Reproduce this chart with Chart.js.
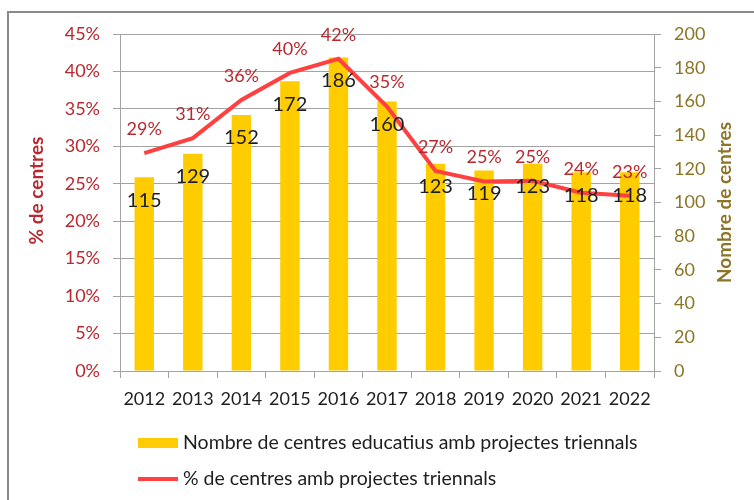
<!DOCTYPE html>
<html>
<head>
<meta charset="utf-8">
<script src="https://cdn.jsdelivr.net/npm/chart.js@4.4.0/dist/chart.umd.min.js"></script>
<style>
  html, body { margin: 0; padding: 0; background: #fff; }
  canvas { display: block; }
</style>
</head>
<body>
<canvas id="chart" width="754" height="500"></canvas>
<script>
var years = ['2012', '2013', '2014', '2015', '2016', '2017', '2018', '2019', '2020', '2021', '2022'];
var nombreCentres = [115, 129, 152, 172, 186, 160, 123, 119, 123, 118, 118];
var percentCentres = [29.1, 31.1, 36.2, 39.8, 41.7, 35.3, 26.7, 25.3, 25.4, 23.8, 23.4];

var percentMax = 45, percentStep = 5;
var countMax = 200, countStep = 20;

var labelBars = 'Nombre de centres educatius amb projectes triennals';
var labelLine = '% de centres amb projectes triennals';
var titleLeft = '% de centres';
var titleRight = 'Nombre de centres';

var colBar = '#FFCC00';
var colLine = '#FF4040';
var colRed = '#B8282E';
var colOlive = '#8C7526';
var colGrid = '#A3A3A3';
var colText = '#1E1E1E';

Chart.defaults.font.family = 'Lato, "Open Sans", sans-serif';

// grey frame around the chart
var framePlugin = {
    id: 'frame',
    beforeDraw: function(chart) {
        var ctx = chart.ctx;
        ctx.save();
        ctx.fillStyle = '#fff';
        ctx.fillRect(0, 0, chart.width, chart.height);
        ctx.strokeStyle = '#8A8A8A';
        ctx.lineWidth = 2;
        ctx.strokeRect(8, 12, chart.width + 20, chart.height + 20);
        ctx.restore();
    }
};

// value labels: counts inside the bar tops, percentages above the line
var valueLabels = {
    id: 'valueLabels',
    afterDatasetsDraw: function(chart) {
        var ctx = chart.ctx;
        ctx.save();
        ctx.textAlign = 'center';
        ctx.textBaseline = 'middle';

        var bars = chart.getDatasetMeta(0);
        ctx.font = '20px Lato';
        ctx.fillStyle = colText;
        bars.data.forEach(function(el, i) {
            ctx.fillText(nombreCentres[i], el.x, el.y + 23);
        });

        var line = chart.getDatasetMeta(1);
        ctx.font = '18px Lato';
        ctx.fillStyle = colRed;
        line.data.forEach(function(el, i) {
            ctx.fillText(Math.round(percentCentres[i]) + '%', el.x, el.y - 24);
        });
        ctx.restore();
    }
};

// vertical axis titles, both reading bottom to top
var axisTitles = {
    id: 'axisTitles',
    afterDraw: function(chart) {
        var ctx = chart.ctx;
        var area = chart.chartArea;
        var mid = (area.top + area.bottom) / 2;
        ctx.save();
        ctx.font = 'bold 19px Lato';
        ctx.textAlign = 'center';
        ctx.textBaseline = 'middle';

        ctx.save();
        ctx.translate(area.left - 83, mid - 12);
        ctx.rotate(-Math.PI / 2);
        ctx.fillStyle = colRed;
        ctx.fillText(titleLeft, 0, 0);
        ctx.restore();

        ctx.save();
        ctx.translate(area.right + 71, mid);
        ctx.rotate(-Math.PI / 2);
        ctx.fillStyle = colOlive;
        ctx.fillText(titleRight, 0, 0);
        ctx.restore();

        ctx.restore();
    }
};

// legend as two stacked rows below the axis
var legendRows = {
    id: 'legendRows',
    afterDraw: function(chart) {
        var ctx = chart.ctx;
        var area = chart.chartArea;
        var x0 = 138;
        ctx.save();
        ctx.font = '19.5px Lato';
        ctx.textBaseline = 'middle';
        ctx.textAlign = 'left';
        chart.data.datasets.forEach(function(ds, i) {
            var y = area.bottom + 72 + i * 36;
            if (ds.type === 'bar') {
                ctx.fillStyle = ds.backgroundColor;
                ctx.fillRect(x0, y - 5, 40, 10);
            } else {
                ctx.strokeStyle = ds.borderColor;
                ctx.lineWidth = 4;
                ctx.beginPath();
                ctx.moveTo(x0, y);
                ctx.lineTo(x0 + 40, y);
                ctx.stroke();
            }
            ctx.fillStyle = colText;
            ctx.fillText(ds.label, x0 + 45, y);
        });
        ctx.restore();
    }
};

var ctx = document.getElementById('chart').getContext('2d');
var chart = new Chart(ctx, {
    data: {
        labels: years,
        datasets: [{
            type: 'bar',
            label: labelBars,
            data: nombreCentres,
            yAxisID: 'yCount',
            backgroundColor: colBar,
            categoryPercentage: 1,
            barPercentage: 0.4,
            order: 2
        }, {
            type: 'line',
            label: labelLine,
            data: percentCentres,
            yAxisID: 'yPercent',
            borderColor: colLine,
            borderWidth: 4,
            pointRadius: 0,
            tension: 0,
            order: 1
        }]
    },
    options: {
        responsive: false,
        animation: false,
        devicePixelRatio: 1,
        layout: {
            padding: { top: 34, bottom: 89, left: 0, right: 0 }
        },
        plugins: {
            legend: { display: false },
            tooltip: { enabled: false }
        },
        scales: {
            x: {
                offset: true,
                grid: { offset: true, drawOnChartArea: false, tickLength: 7, color: colGrid },
                border: { color: colGrid },
                ticks: { color: colText, font: { size: 18 }, padding: 10 },
                afterFit: function(scale) { scale.height = 40; }
            },
            yPercent: {
                position: 'left',
                min: 0,
                max: percentMax,
                grid: { tickLength: 7, color: colGrid },
                border: { color: colGrid },
                ticks: {
                    stepSize: percentStep,
                    color: colRed,
                    font: { size: 18 },
                    padding: 13,
                    callback: function(value) {
                        return value + '%';
                    }
                },
                afterFit: function(scale) { scale.width = 120; }
            },
            yCount: {
                position: 'right',
                min: 0,
                max: countMax,
                grid: { drawOnChartArea: false, tickLength: 7, color: colGrid },
                border: { color: colGrid },
                ticks: { stepSize: countStep, color: colOlive, font: { size: 18 }, padding: 13 },
                afterFit: function(scale) { scale.width = 100; }
            }
        }
    },
    plugins: [framePlugin, valueLabels, axisTitles, legendRows]
});
</script>
</body>
</html>
